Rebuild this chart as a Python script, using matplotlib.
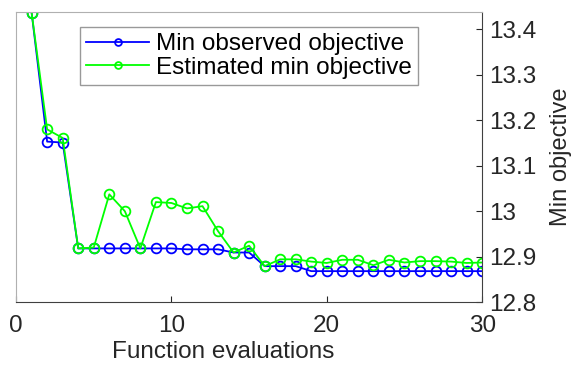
import matplotlib.pyplot as plt

plt.rcParams['font.family'] = ['Liberation Sans', 'DejaVu Sans']

evals = list(range(1, 31))
min_observed = [13.437, 13.153, 13.151, 12.918, 12.918, 12.918, 12.918, 12.918, 12.918, 12.918,
                12.916, 12.916, 12.916, 12.909, 12.909, 12.879, 12.879, 12.879, 12.868, 12.868,
                12.868, 12.868, 12.868, 12.868, 12.868, 12.868, 12.868, 12.868, 12.868, 12.868]
est_min = [13.437, 13.180, 13.161, 12.918, 12.920, 13.037, 13.000, 12.918, 13.020, 13.018,
           13.006, 13.011, 12.956, 12.909, 12.924, 12.879, 12.894, 12.894, 12.889, 12.886,
           12.893, 12.893, 12.881, 12.893, 12.887, 12.890, 12.890, 12.889, 12.886, 12.887]

fig = plt.figure(figsize=(5.74, 3.67), dpi=100)
ax = fig.add_axes([0.028, 0.177, 0.812, 0.79])

ax.plot(evals, min_observed, color='#0000ff', lw=1.3, marker='o', ms=7, mfc='none',
        mew=1.3, label='Min observed objective')
ax.plot(evals, est_min, color='#00ff00', lw=1.3, marker='o', ms=7, mfc='none',
        mew=1.3, label='Estimated min objective')

ax.set_xlim(0, 30)
ax.set_ylim(12.8, 13.438)
ax.set_xticks([0, 10, 20, 30])
ax.set_yticks([12.8, 12.9, 13.0, 13.1, 13.2, 13.3, 13.4])
ax.set_yticklabels(['12.8', '12.9', '13', '13.1', '13.2', '13.3', '13.4'])
ax.yaxis.tick_right()
ax.yaxis.set_label_position('right')
ax.tick_params(direction='in', labelsize=17.5, colors='#262626', length=4)
ax.tick_params(axis='x', pad=9)
ax.tick_params(axis='y', pad=5)

for side in ['left', 'top']:
    ax.spines[side].set_color('#b0b0b0')
for side in ['bottom', 'right']:
    ax.spines[side].set_color('#404040')

ax.set_xlabel('Function evaluations', fontsize=17.5, color='#262626')
ax.xaxis.set_label_coords(0.445, -0.135)
ax.set_ylabel('Min objective', fontsize=17, color='#262626', labelpad=10)

leg = ax.legend(loc='upper left', bbox_to_anchor=(0.137, 0.948), fontsize=17.5,
                frameon=True, fancybox=False, edgecolor='#808080', markerscale=0.7,
                borderpad=0.25, labelspacing=0.05, handlelength=2.6, handletextpad=0.3,
                borderaxespad=0)
leg.get_frame().set_linewidth(1.0)

fig.savefig('out.png', dpi=100)
